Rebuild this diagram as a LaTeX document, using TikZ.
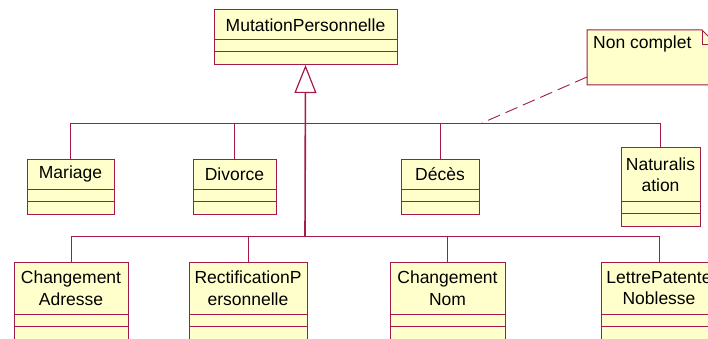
\documentclass[tikz,border=0pt]{standalone}
\usepackage{fontspec}
\setmainfont{Liberation Sans}
\usepackage{tikz}
\usetikzlibrary{arrows.meta,positioning}
\usepackage{xcolor}
\definecolor{umlred}{RGB}{165,25,75}
\definecolor{umlfill}{RGB}{255,255,204}

\begin{document}
\begin{tikzpicture}[x=1pt, y=-1pt, font=\fontsize{17.5}{21.5}\selectfont]
    \tikzstyle{clsname} = [draw=umlred, fill=umlfill, line width=1pt, align=center, inner sep=0pt, outer sep=0pt, minimum height=30pt]
    \tikzstyle{clsrow} = [draw=umlred, fill=umlfill, line width=1pt, inner sep=0pt, outer sep=0pt, minimum height=12pt]
    \tikzstyle{bus} = [draw=umlred, line width=0.9pt]
    \tikzstyle{notebox} = [fill=umlfill, inner sep=0pt, outer sep=0pt, minimum width=130pt, minimum height=55pt, anchor=north west]

    \clip (0,0) rectangle (708,339);

    % parent class
    \node [clsname, minimum width=183pt, anchor=north] (mp) at (305.5,10) {MutationPersonnelle};
    \node [clsrow, minimum width=183pt, below=0pt of mp] (mp1) {};
    \node [clsrow, minimum width=183pt, minimum height=13pt, below=0pt of mp1] (mp2) {};

    % first row
    \node [clsname, minimum width=87pt, anchor=north] (mar) at (70.5,159) {Mariage};
    \node [clsrow, minimum width=87pt, below=0pt of mar] (mar1) {};
    \node [clsrow, minimum width=87pt, minimum height=13pt, below=0pt of mar1] (mar2) {};
    \node [clsname, minimum width=83pt, anchor=north] (div) at (234.5,159) {Divorce};
    \node [clsrow, minimum width=83pt, below=0pt of div] (div1) {};
    \node [clsrow, minimum width=83pt, minimum height=13pt, below=0pt of div1] (div2) {};
    \node [clsname, minimum width=78pt, anchor=north] (dec) at (440,159) {Décès};
    \node [clsrow, minimum width=78pt, below=0pt of dec] (dec1) {};
    \node [clsrow, minimum width=78pt, minimum height=13pt, below=0pt of dec1] (dec2) {};
    \node [clsname, minimum width=79pt, minimum height=53pt, anchor=north] (nat) at (660.5,148) {Naturalis\\ation};
    \node [clsrow, minimum width=79pt, below=0pt of nat] (nat1) {};
    \node [clsrow, minimum width=79pt, minimum height=13pt, below=0pt of nat1] (nat2) {};

    % second row
    \node [clsname, minimum width=114pt, minimum height=52pt, anchor=north] (adr) at (71,262) {Changement\\Adresse};
    \node [clsrow, minimum width=114pt, below=0pt of adr] (adr1) {};
    \node [clsrow, minimum width=114pt, minimum height=13pt, below=0pt of adr1] (adr2) {};
    \node [clsname, minimum width=118pt, minimum height=52pt, anchor=north] (rec) at (248,262) {RectificationP\\ersonnelle};
    \node [clsrow, minimum width=118pt, below=0pt of rec] (rec1) {};
    \node [clsrow, minimum width=118pt, minimum height=13pt, below=0pt of rec1] (rec2) {};
    \node [clsname, minimum width=115pt, minimum height=52pt, anchor=north] (nom) at (447.5,262) {Changement\\Nom};
    \node [clsrow, minimum width=115pt, below=0pt of nom] (nom1) {};
    \node [clsrow, minimum width=115pt, minimum height=13pt, below=0pt of nom1] (nom2) {};
    \node [clsname, minimum width=116pt, minimum height=52pt, anchor=north] (lpn) at (659,262) {LettrePatente\\Noblesse};
    \node [clsrow, minimum width=116pt, below=0pt of lpn] (lpn1) {};
    \node [clsrow, minimum width=116pt, minimum height=13pt, below=0pt of lpn1] (lpn2) {};

    % note
    \node [notebox, label={[anchor=north west, inner sep=6pt]north west:Non complet}] (note) at (587,30) {};
    \fill[white] ([xshift=-15pt]note.north east) -- (note.north east) -- ([yshift=-15pt]note.north east) -- cycle;
    \draw[umlred, line width=1pt] (note.north west) -- ([xshift=-15pt]note.north east) -- ([yshift=-15pt]note.north east) -- (note.south east) -- (note.south west) -- cycle;
    \draw[umlred, line width=1pt] ([xshift=-15pt]note.north east) |- ([yshift=-15pt]note.north east);

    % generalization tree
    \coordinate (up) at (305,123);
    \coordinate (low) at (305,236);
    \coordinate (hook) at (482,123);
    \path[bus] (mar.north) |- (up);
    \path[bus] (div.north) |- (up);
    \path[bus] (dec.north) |- (up);
    \path[bus] (nat.north) |- (up);
    \path[bus] (adr.north) |- (low);
    \path[bus] (rec.north) |- (low);
    \path[bus] (nom.north) |- (low);
    \path[bus] (lpn.north) |- (low);
    \draw[umlred, line width=1.6pt, -{Triangle[open, width=22pt, length=28pt, line width=1.2pt]}] (low) -- (mp2.south);
    \draw[umlred, line width=0.9pt, dash pattern=on 13pt off 6pt] ([yshift=8pt]note.south west) -- (hook);
\end{tikzpicture}
\end{document}
